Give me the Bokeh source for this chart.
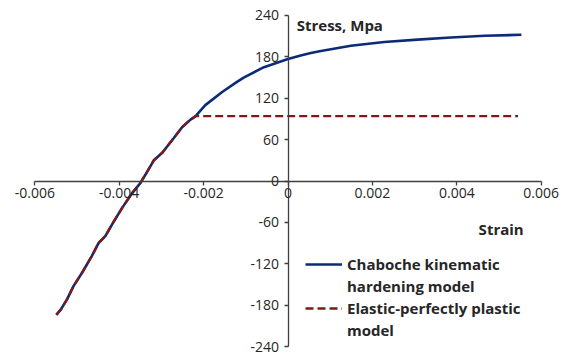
from bokeh.plotting import figure
from bokeh.models import (Range1d, FixedTicker, CustomJSTickFormatter, Label,
                          Legend, LegendItem)
from bokeh.embed import file_html
from bokeh.resources import INLINE

# Stress-strain response, Chaboche kinematic hardening model
chaboche_strain = [-0.00549, -0.00538, -0.00532, -0.00524, -0.00508, -0.00488,
                   -0.00465, -0.00449, -0.00433, -0.00413, -0.00393, -0.00370,
                   -0.00350, -0.00338, -0.00318, -0.00298, -0.00271, -0.00251,
                   -0.00231, -0.00219, -0.00196, -0.00156, -0.00120, -0.00105,
                   -0.00057, 0.0, 0.00030, 0.00054, 0.00078, 0.00149, 0.00228,
                   0.00307, 0.00386, 0.00466, 0.00553]
chaboche_stress = [-194, -186, -180, -172, -152, -133,
                   -109, -90, -80, -59, -39, -18,
                   -3, 9, 30, 41, 62, 78,
                   89, 94, 110, 129, 144, 150,
                   165, 177, 182, 185.5, 188.5, 196, 201.5,
                   205, 208, 210.5, 212]

# Elastic-perfectly plastic model
epp_strain = [-0.00549, -0.00538, -0.00532, -0.00524, -0.00508, -0.00488,
              -0.00465, -0.00449, -0.00433, -0.00413, -0.00393, -0.00370,
              -0.00350, -0.00338, -0.00318, -0.00298, -0.00271, -0.00251,
              -0.00231, -0.00219, 0.00545]
epp_stress = [-194, -186, -180, -172, -152, -133,
              -109, -90, -80, -59, -39, -18,
              -3, 9, 30, 41, 62, 78,
              89, 94, 94]

x_ticks = [-0.006, -0.004, -0.002, 0.0, 0.002, 0.004, 0.006]
y_ticks = [-240, -180, -120, -60, 0, 60, 120, 180, 240]

FONT = "Open Sans"
TEXT = "#262626"
AXIS = "#404040"
BLUE = "#0B2A78"
RED = "#7E1A1A"

p = figure(width=573, height=355, output_backend="svg", toolbar_location=None,
           x_range=Range1d(-0.006813, 0.006765), y_range=Range1d(-253.0, 261.7),
           min_border=0)
p.outline_line_color = None
p.grid.visible = False
p.background_fill_color = "white"
p.border_fill_color = "white"

# axes crossing at the origin
p.xaxis.fixed_location = 0
p.yaxis.fixed_location = 0
p.xaxis.bounds = (x_ticks[0], x_ticks[-1])
p.yaxis.bounds = (y_ticks[0], y_ticks[-1])
p.xaxis.ticker = FixedTicker(ticks=x_ticks)
p.yaxis.ticker = FixedTicker(ticks=y_ticks)
p.xaxis.formatter = CustomJSTickFormatter(
    code="return Math.abs(tick) < 1e-9 ? '0' : tick.toFixed(3);")
p.yaxis.formatter = CustomJSTickFormatter(code="return tick.toFixed(0);")
for ax in (p.xaxis, p.yaxis):
    ax.axis_line_color = AXIS
    ax.axis_line_width = 1.3
    ax.major_tick_line_color = AXIS
    ax.major_tick_line_width = 1.3
    ax.major_tick_out = 4
    ax.major_tick_in = 0
    ax.minor_tick_line_color = None
    ax.major_label_text_font = FONT
    ax.major_label_text_font_size = "14px"
    ax.major_label_text_color = TEXT
p.xaxis.major_label_standoff = 3
p.yaxis.major_label_standoff = 5

r1 = p.line(chaboche_strain, chaboche_stress, line_color=BLUE, line_width=2.6)
r2 = p.line(epp_strain, epp_stress, line_color=RED, line_width=2.4,
            line_dash="8 4")
# invisible renderer used for the wrapped second line of each legend entry
blank = p.line(x=[], y=[], line_alpha=0)

p.add_layout(Label(x=0.000206, y=225.5, text="Stress, Mpa", text_font=FONT,
                   text_font_size="15px", text_font_style="bold",
                   text_color=TEXT, text_baseline="middle", text_align="left"))
p.add_layout(Label(x=0.005585, y=-69, text="Strain", text_font=FONT,
                   text_font_size="15px", text_font_style="bold",
                   text_color=TEXT, text_baseline="middle", text_align="right"))

legend = Legend(items=[
    LegendItem(label="Chaboche kinematic", renderers=[r1]),
    LegendItem(label="hardening model", renderers=[blank]),
    LegendItem(label="Elastic-perfectly plastic", renderers=[r2]),
    LegendItem(label="model", renderers=[blank]),
], location=(305, 14))
legend.border_line_color = None
legend.background_fill_alpha = 0
legend.padding = 0
legend.margin = 0
legend.spacing = 0
legend.glyph_width = 37
legend.glyph_height = 22
legend.label_height = 22
legend.label_standoff = 5
legend.label_text_font = FONT
legend.label_text_font_size = "15px"
legend.label_text_font_style = "bold"
legend.label_text_color = TEXT
p.add_layout(legend, "center")

open("out.html", "w").write(file_html(p, INLINE))
